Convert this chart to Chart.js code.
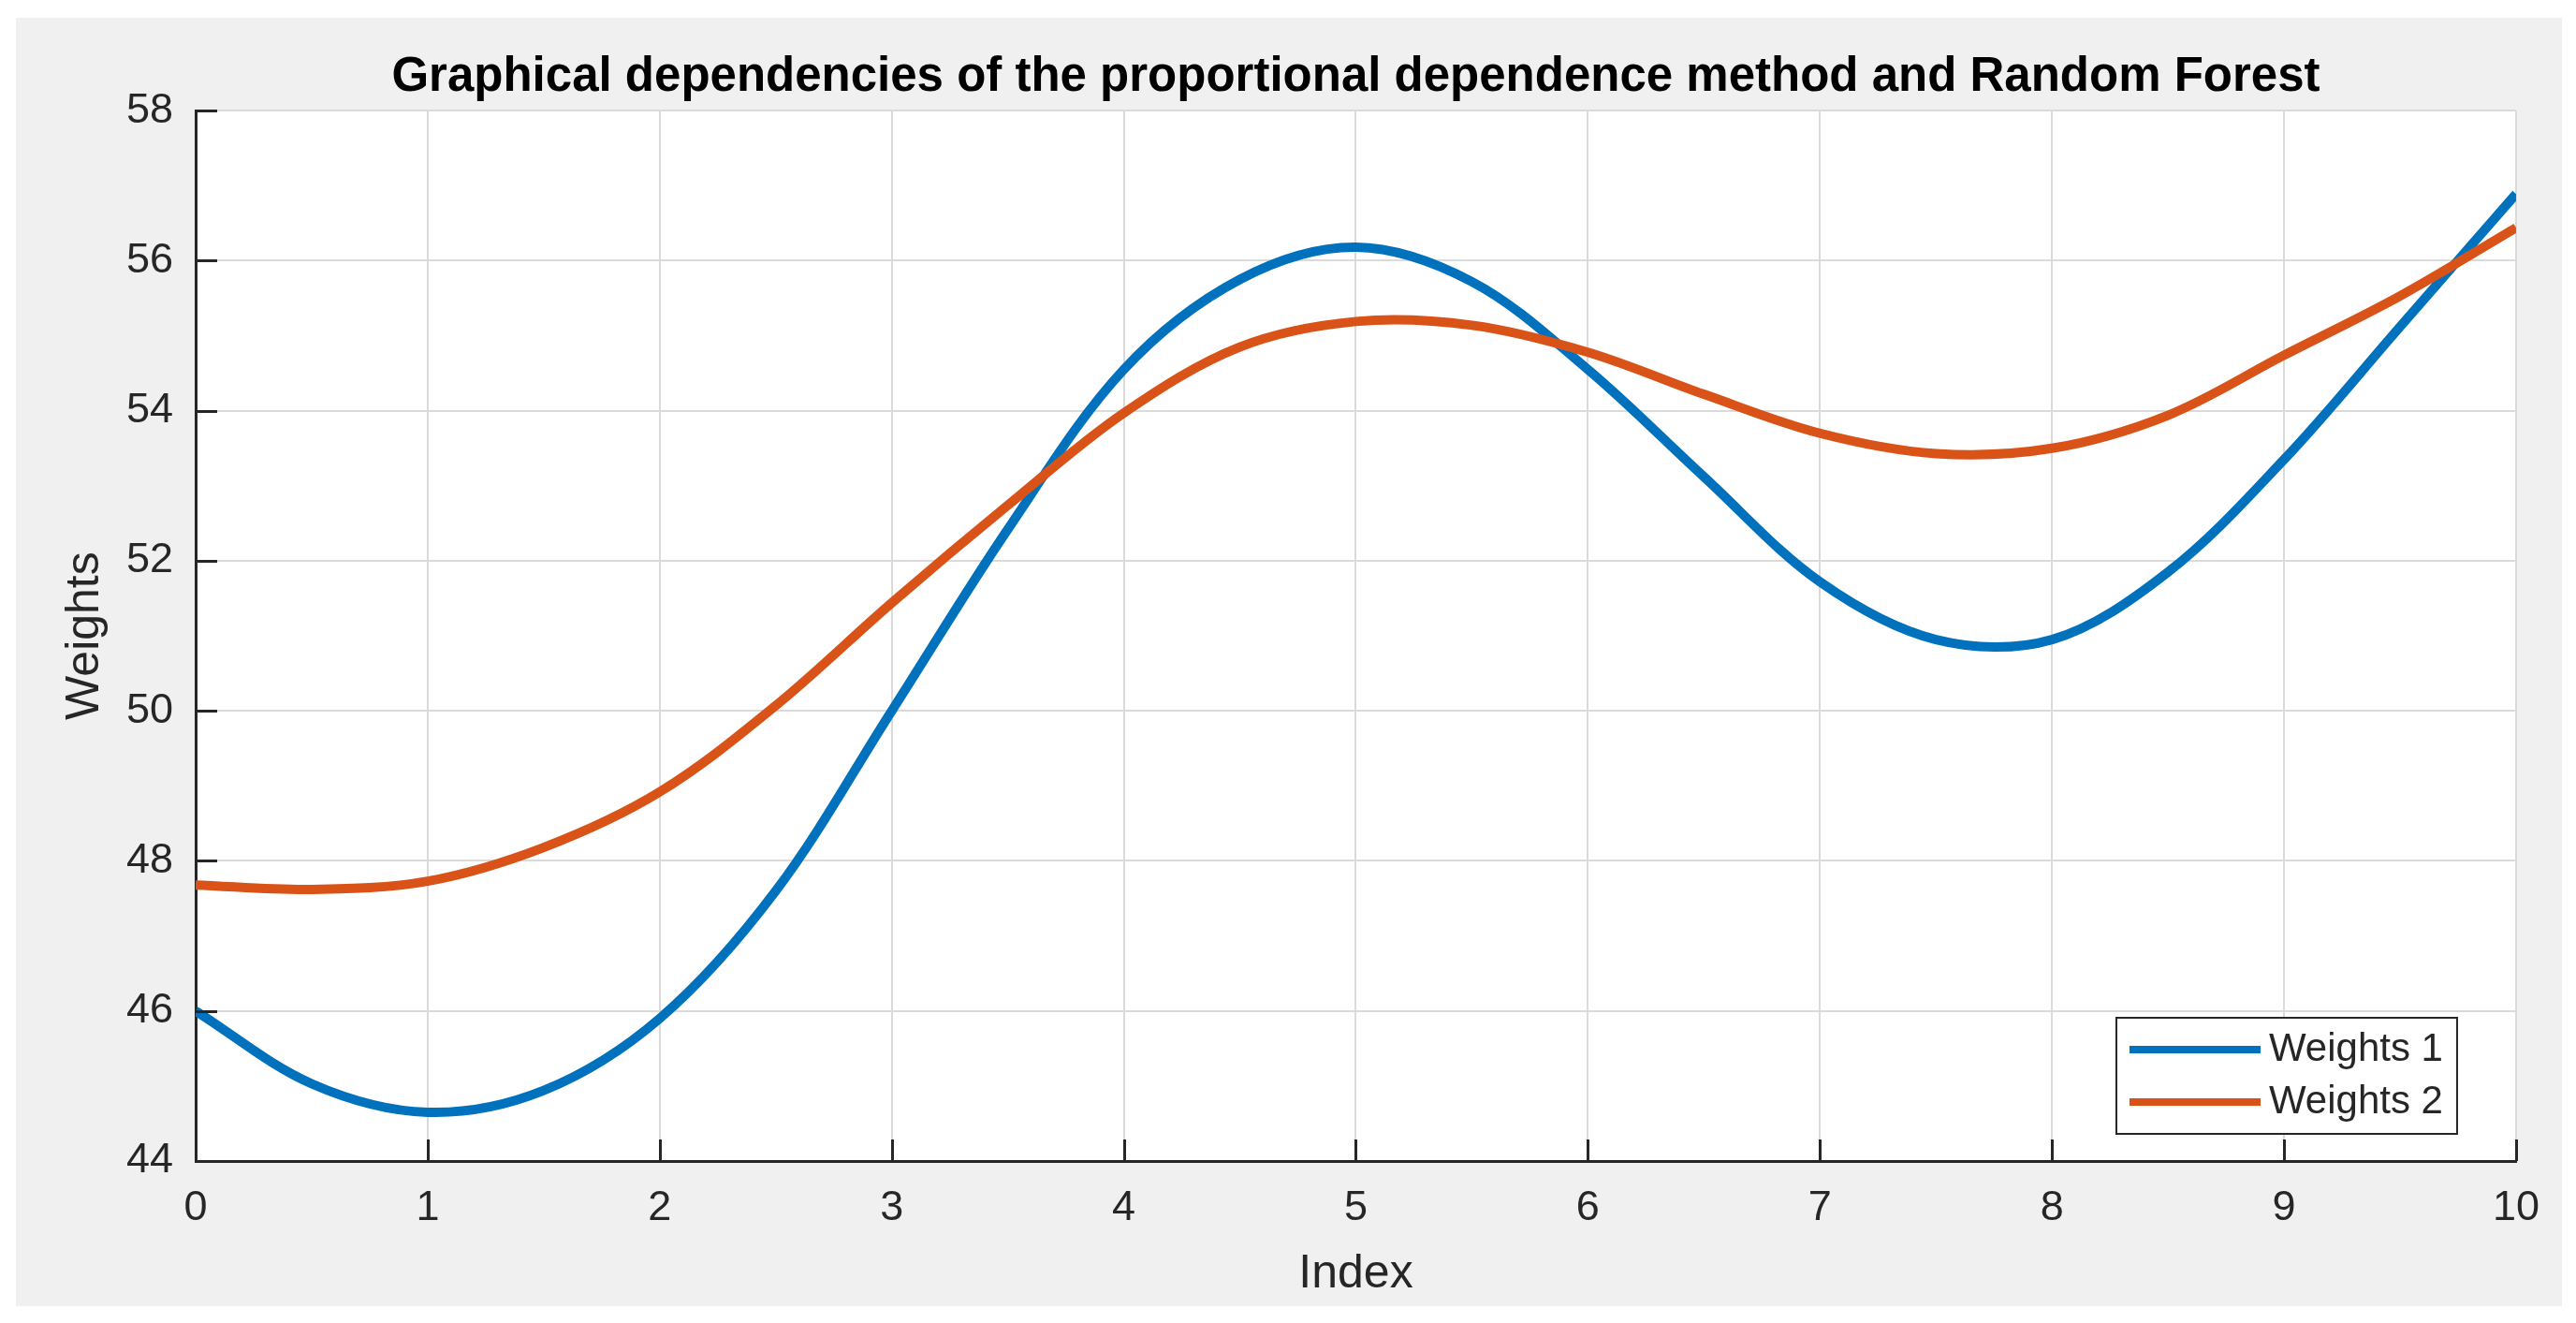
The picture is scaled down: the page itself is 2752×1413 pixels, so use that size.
<!DOCTYPE html>
<html>
<head>
<meta charset="utf-8">
<title>Graphical dependencies</title>
<script src="https://cdn.jsdelivr.net/npm/chart.js@4.4.1/dist/chart.umd.min.js"></script>
<style>
    html, body { margin: 0; padding: 0; background: #ffffff; }
    #wrap { position: absolute; left: 17px; top: 19px; width: 2720px; height: 1376px; }
</style>
</head>
<body>
<div id="wrap"><canvas id="weightsChart"></canvas></div>
<script>
// Values
const indexValues = [0, 0.5, 1, 1.5, 2, 2.5, 3, 3.5, 4, 4.5, 5, 5.5, 6, 6.5, 7, 7.5, 8, 8.5, 9, 9.5, 10];
const weights1 = [46.0, 45.03, 44.65, 44.94, 45.9, 47.6, 50.0, 52.42, 54.55, 55.75, 56.18, 55.72, 54.55, 53.12, 51.72, 50.95, 50.95, 51.85, 53.35, 55.12, 56.89];
const weights2 = [47.68, 47.62, 47.73, 48.18, 48.92, 50.07, 51.44, 52.74, 53.97, 54.85, 55.19, 55.14, 54.78, 54.22, 53.7, 53.43, 53.5, 53.94, 54.74, 55.53, 56.44];
const xTicks = [0, 1, 2, 3, 4, 5, 6, 7, 8, 9, 10];
const yTicks = [44, 46, 48, 50, 52, 54, 56, 58];
const seriesLabels = ['Weights 1', 'Weights 2'];
const seriesColors = ['#0072BD', '#D95319'];
const chartTitle = 'Graphical dependencies of the proportional dependence method and Random Forest';

const FONT = '"Liberation Sans", Arial, Helvetica, sans-serif';
const AXIS_COLOR = '#262626';

document.addEventListener('DOMContentLoaded', function() {
    createWeightsChart();
});

function toPoints(values) {
    return values.map((v, i) => ({ x: indexValues[i], y: v }));
}

/**
 * Gray figure background with a white plot area
 */
const figureBackground = {
    id: 'figureBackground',
    beforeDraw(chart) {
        const { ctx, chartArea } = chart;
        ctx.save();
        ctx.fillStyle = '#f0f0f0';
        ctx.fillRect(0, 0, chart.width, chart.height);
        ctx.fillStyle = '#ffffff';
        ctx.fillRect(chartArea.left, chartArea.top, chartArea.right - chartArea.left, chartArea.bottom - chartArea.top);
        ctx.restore();
    }
};

/**
 * Inward tick marks on left and bottom axes, plus boxed legend
 */
const axisDecor = {
    id: 'axisDecor',
    afterDraw(chart) {
        const { ctx, chartArea } = chart;
        const x = chart.scales.x;
        const y = chart.scales.y;
        const len = 23;

        ctx.save();
        ctx.strokeStyle = AXIS_COLOR;
        ctx.lineWidth = 3;
        ctx.beginPath();
        xTicks.forEach(v => {
            const px = Math.round(x.getPixelForValue(v)) + 0.5;
            ctx.moveTo(px, chartArea.bottom);
            ctx.lineTo(px, chartArea.bottom - len);
        });
        yTicks.forEach(v => {
            const py = Math.round(y.getPixelForValue(v)) + 0.5;
            ctx.moveTo(chartArea.left, py);
            ctx.lineTo(chartArea.left + len, py);
        });
        ctx.stroke();

        // legend box
        const boxW = 364, boxH = 124;
        const bx = chartArea.right - 63 - boxW;
        const by = chartArea.bottom - 29 - boxH;
        ctx.fillStyle = '#ffffff';
        ctx.fillRect(bx, by, boxW, boxH);
        ctx.lineWidth = 2;
        ctx.strokeStyle = AXIS_COLOR;
        ctx.strokeRect(bx, by, boxW, boxH);

        ctx.font = '42px ' + FONT;
        ctx.textBaseline = 'middle';
        ctx.textAlign = 'left';
        chart.data.datasets.forEach((ds, i) => {
            const ry = by + 34 + i * 56;
            ctx.strokeStyle = ds.borderColor;
            ctx.lineWidth = 8;
            ctx.beginPath();
            ctx.moveTo(bx + 14, ry);
            ctx.lineTo(bx + 154, ry);
            ctx.stroke();
            ctx.fillStyle = AXIS_COLOR;
            ctx.fillText(ds.label, bx + 163, ry);
        });
        ctx.restore();
    }
};

/**
 * Create the weights line chart
 */
function createWeightsChart() {
    const ctx = document.getElementById('weightsChart').getContext('2d');

    new Chart(ctx, {
        type: 'line',
        data: {
            datasets: [
                {
                    label: seriesLabels[0],
                    data: toPoints(weights1),
                    borderColor: seriesColors[0],
                    borderWidth: 10,
                    pointRadius: 0,
                    fill: false,
                    tension: 0.34,
                    order: 1
                },
                {
                    label: seriesLabels[1],
                    data: toPoints(weights2),
                    borderColor: seriesColors[1],
                    borderWidth: 10,
                    pointRadius: 0,
                    fill: false,
                    tension: 0.34,
                    order: 0
                }
            ]
        },
        options: {
            responsive: true,
            maintainAspectRatio: false,
            animation: false,
            devicePixelRatio: 1,
            layout: {
                padding: { left: 0, right: 49, top: 0, bottom: 0 }
            },
            plugins: {
                legend: { display: false },
                tooltip: { enabled: false },
                title: {
                    display: true,
                    text: chartTitle,
                    fullSize: false,
                    color: '#000000',
                    font: { family: FONT, size: 51, weight: 'bold' },
                    padding: { top: 33, bottom: 5 }
                }
            },
            scales: {
                x: {
                    type: 'linear',
                    min: 0,
                    max: 10,
                    afterBuildTicks: function(scale) {
                        scale.ticks = xTicks.map(v => ({ value: v }));
                    },
                    afterFit: function(scale) {
                        scale.height = 155;
                    },
                    grid: { color: '#dadada', lineWidth: 2, drawTicks: false },
                    border: { display: true, color: AXIS_COLOR, width: 3 },
                    ticks: {
                        color: AXIS_COLOR,
                        font: { family: FONT, size: 45 },
                        padding: 24,
                        maxRotation: 0
                    },
                    title: {
                        display: true,
                        text: 'Index',
                        color: AXIS_COLOR,
                        font: { family: FONT, size: 50 },
                        padding: { top: 0, bottom: 4 }
                    }
                },
                y: {
                    type: 'linear',
                    min: 44,
                    max: 58,
                    afterBuildTicks: function(scale) {
                        scale.ticks = yTicks.map(v => ({ value: v }));
                    },
                    afterFit: function(scale) {
                        scale.width = 192;
                    },
                    grid: { color: '#dadada', lineWidth: 2, drawTicks: false },
                    border: { display: true, color: AXIS_COLOR, width: 3 },
                    ticks: {
                        color: AXIS_COLOR,
                        font: { family: FONT, size: 45 },
                        padding: 24
                    },
                    title: {
                        display: true,
                        text: 'Weights',
                        color: AXIS_COLOR,
                        font: { family: FONT, size: 50 },
                        padding: { top: 44, bottom: 0 }
                    }
                }
            }
        },
        plugins: [figureBackground, axisDecor]
    });
}
</script>
</body>
</html>
